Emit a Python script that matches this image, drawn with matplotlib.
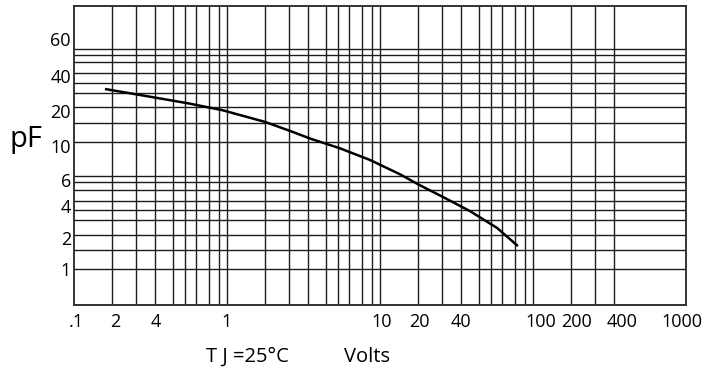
import matplotlib
matplotlib.use("Agg")
import matplotlib.pyplot as plt
import numpy as np

plt.rcParams['font.family'] = ['Open Sans', 'DejaVu Sans']

# Curve data (Volts, pF)
volts = [0.160, 0.252, 0.559, 0.931, 1.78, 2.67, 3.50, 5.50, 8.65, 13.6, 17.8, 25.9, 38.9, 58.5, 80.1]
capacitance = [25.9, 23.6, 20.0, 17.7, 14.3, 12.0, 10.6, 8.88, 7.19, 5.55, 4.64, 3.69, 2.86, 2.11, 1.52]

# Tick labels (as printed on the chart) and their positions on the axes
x_tick_labels = [".1", "2", "4", "1", "10", "20", "40", "100", "200", "400", "1000"]
x_tick_pos = [0.1035, 0.188, 0.345, 1.0, 10.35, 18.07, 34.2, 113.3, 193.3, 383.5, 946]
y_tick_labels = ["1", "2", "4", "6", "10", "20", "40", "60"]
y_tick_pos = [1.0, 1.76, 3.13, 5.01, 9.30, 17.4, 32.9, 63.8]

# Grid layout of the printed chart paper (fraction of a decade)
x_grid_frac = [0.251, 0.409, 0.534, 0.648, 0.728, 0.802, 0.887, 0.948]
y_grid_frac = [0.150, 0.272, 0.383, 0.463, 0.536, 0.622, 0.682, 0.729]

fig = plt.figure(figsize=(7.18, 3.70), dpi=100)
ax = fig.add_axes([73.7 / 718, 1 - 304.5 / 370, (685.7 - 73.7) / 718, (304.5 - 6) / 370])
ax.set_xscale('log')
ax.set_yscale('log')
ax.set_xlim(0.1, 1000)
ax.set_ylim(0.530, 115.8)

gc = '#1c1c1c'
glw = 1.0
# vertical grid
for d in [0.1, 1, 10]:
    for f in x_grid_frac:
        ax.axvline(d * 10 ** f, color=gc, lw=glw, zorder=1)
for d in [1, 10, 100]:
    ax.axvline(d, color=gc, lw=glw, zorder=1)
for f in x_grid_frac[:3]:
    ax.axvline(100 * 10 ** f, color=gc, lw=glw, zorder=1)
# horizontal grid
for d in [1, 10]:
    ax.axhline(d, color=gc, lw=glw, zorder=1)
    for f in y_grid_frac:
        ax.axhline(d * 10 ** f, color=gc, lw=glw, zorder=1)

ax.plot(volts, capacitance, color='black', lw=1.8, zorder=3, solid_capstyle='butt')

ax.minorticks_off()
ax.set_xticks(x_tick_pos, x_tick_labels)
ax.set_yticks(y_tick_pos, y_tick_labels)
ax.tick_params(axis='both', length=0, labelsize=13, colors='black')
ax.tick_params(axis='x', pad=6)
ax.tick_params(axis='y', pad=2)
for s in ax.spines.values():
    s.set_color('#333333')
    s.set_linewidth(1.4)

fig.text(26 / 718, 1 - 146.7 / 370, 'pF', ha='center', va='baseline', fontsize=21)
fig.text(247.5 / 718, 1 - 361.7 / 370, 'T J =25°C', ha='center', va='baseline', fontsize=14.5)
fig.text(367.5 / 718, 1 - 361.7 / 370, 'Volts', ha='center', va='baseline', fontsize=14.5)

fig.savefig('out.png', dpi=100)
